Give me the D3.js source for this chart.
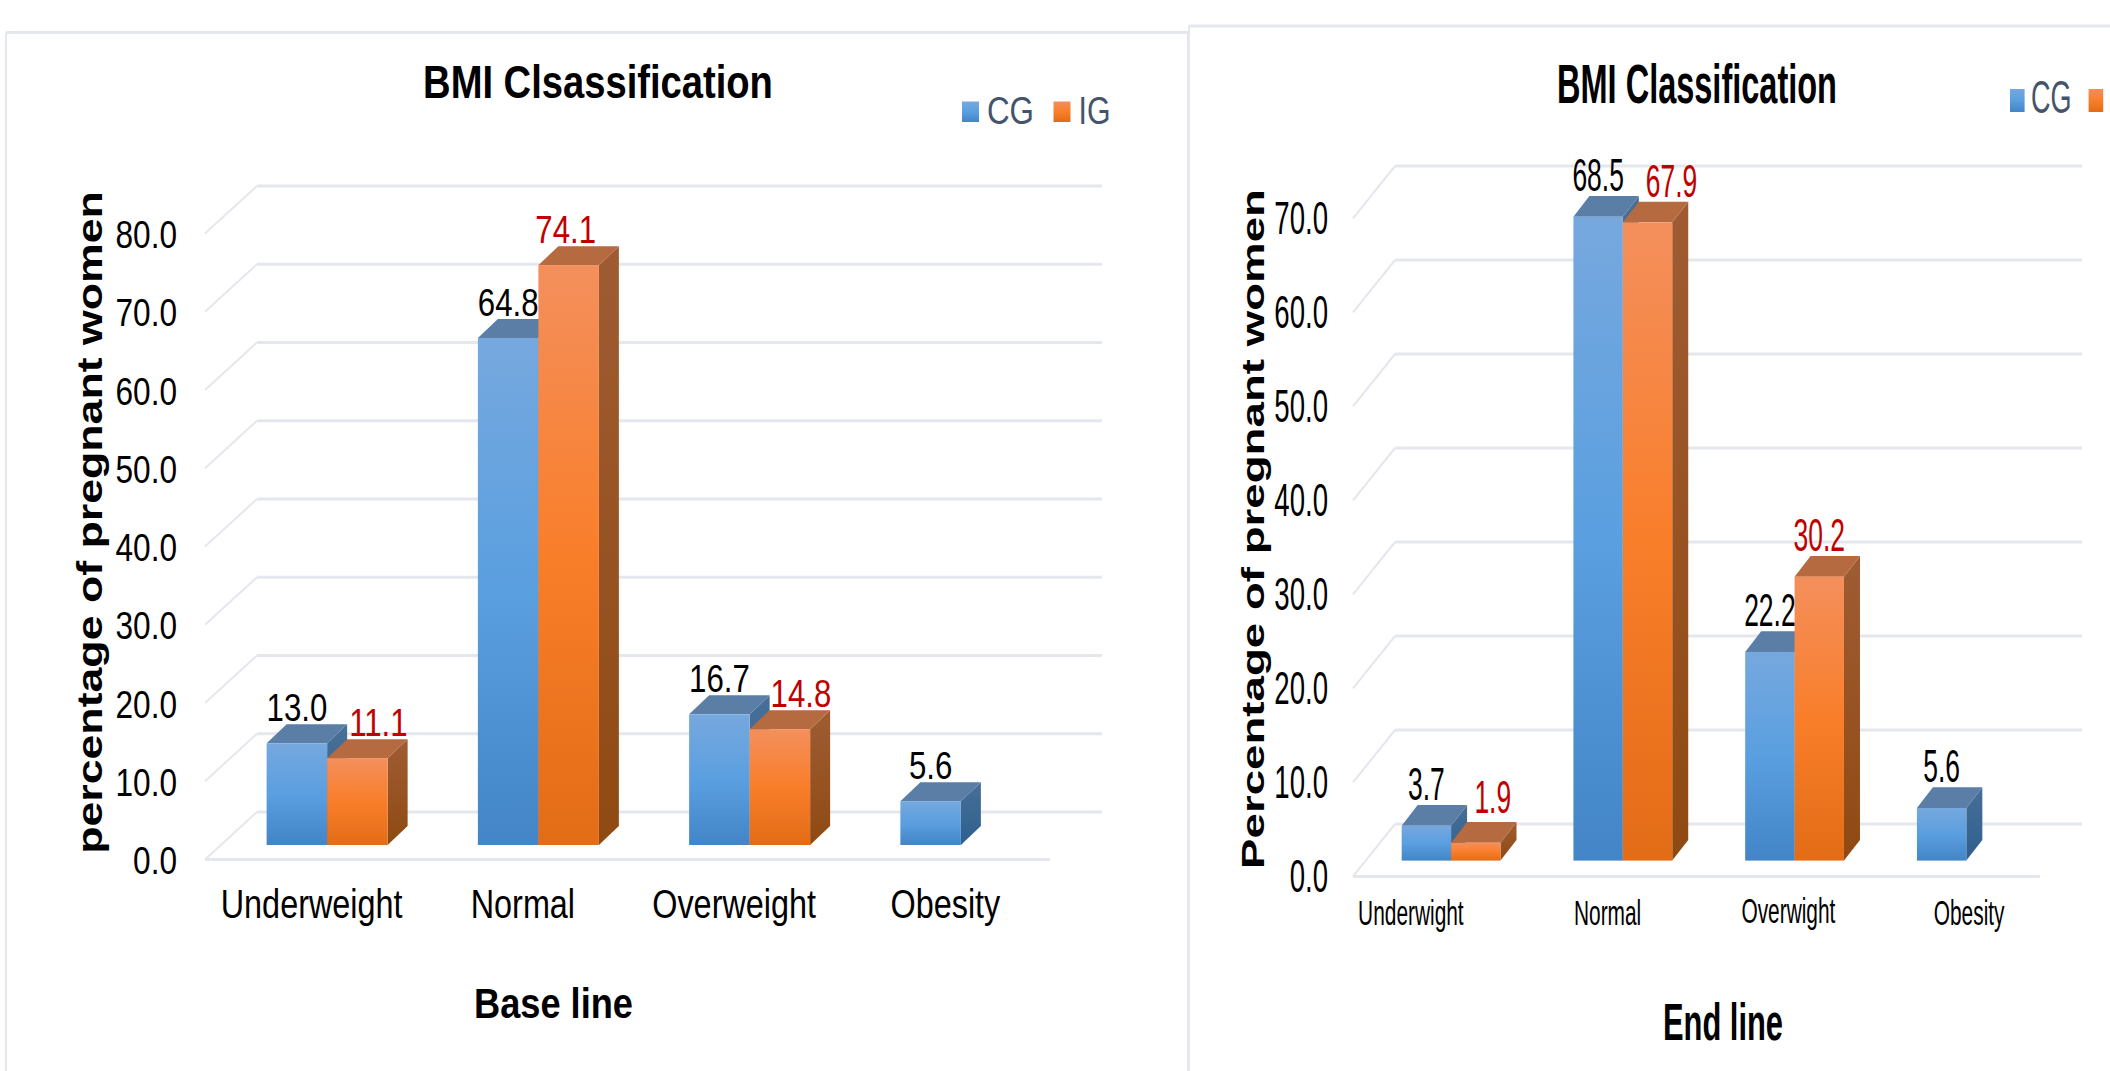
<!DOCTYPE html>
<html>
<head>
<meta charset="utf-8">
<title>BMI classification of pregnant women</title>
<script src="https://cdn.jsdelivr.net/npm/d3@7"></script>
<style>
  html, body { margin: 0; padding: 0; background: #fff; }
  svg { display: block; }
  text { font-family: "Liberation Sans", Arial, sans-serif; }
</style>
</head>
<body>
<svg id="chart" width="2110" height="1071"></svg>
<script>
// Values shown on the two panels
const seriesNames = ["CG", "IG"];
const baseCategories = ["Underweight", "Normal", "Overweight", "Obesity"];
const baseCG = [13.0, 64.8, 16.7, 5.6];
const baseIG = [11.1, 74.1, 14.8, null];
const baseTicks = [0, 10, 20, 30, 40, 50, 60, 70, 80];

const endCategories = ["Underwight", "Normal", "Overwight", "Obesity"];
const endCG = [3.7, 68.5, 22.2, 5.6];
const endIG = [1.9, 67.9, 30.2, null];
const endTicks = [0, 10, 20, 30, 40, 50, 60, 70];

const svg = d3.select("#chart");
const defs = svg.append("defs");

// Vertical shading used on the bar faces
function gradient(id, stops) {
  const g = defs.append("linearGradient").attr("id", id)
    .attr("x1", 0).attr("y1", 0).attr("x2", 0).attr("y2", 1);
  stops.forEach(([o, c]) => g.append("stop").attr("offset", o).attr("stop-color", c));
}
gradient("front-CG", [[0, "#76a8de"], [0.5, "#5a9fe0"], [1, "#4385c6"]]);
gradient("front-IG", [[0, "#f48f5c"], [0.5, "#f97e2a"], [1, "#e36c17"]]);
gradient("side-CG", [[0, "#476f98"], [1, "#2f5f8e"]]);
gradient("side-IG", [[0, "#9f5c33"], [1, "#8f4a12"]]);
const topFill = { CG: "#5a7ea6", IG: "#b56a40" };
const gridColor = "#e4e7ee";

// Text squeezed horizontally; pass sx for a factor or width for a target length
function label(parent, o) {
  const t = parent.append("text")
    .attr("text-anchor", o.anchor || "middle")
    .attr("font-size", o.size)
    .attr("font-weight", o.bold ? "bold" : "normal")
    .attr("fill", o.fill || "#000")
    .style("white-space", "pre")
    .text(o.text);
  const sx = o.width ? o.width / t.node().getComputedTextLength() : (o.sx || 1);
  t.attr("transform", `translate(${o.x},${o.y}) rotate(${o.rotate || 0}) scale(${sx},1)`);
  return t;
}

function drawPanel(p) {
  const g = svg.append("g");

  // Panel frame: a heavier top edge with thin sides
  const [fx0, fy, fx1] = p.frame;
  const frame = g.append("g").attr("fill", "none").attr("stroke", gridColor);
  frame.append("path").attr("d", `M${fx0},${fy}H${fx1}`).attr("stroke-width", 3);
  frame.append("path").attr("d", `M${fx0},${fy}V1071` + (p.frameRight ? `M${fx1},${fy}V1071` : ""))
    .attr("stroke-width", 2);

  const yBack = d3.scaleLinear().domain(p.domain).range(p.backRange);
  const yFront = v => yBack(v) + p.floor.dy;
  const yBar = v => yBack(v) + p.barOffset.y;
  const x = d3.scaleBand().domain(p.categories).range(p.floor.front);
  const inner = d3.scaleBand().domain(seriesNames).range([0, p.groupWidth]);

  // Back wall, side wall and front floor edge
  const walls = g.append("g").attr("fill", "none").attr("stroke", gridColor);
  walls.selectAll(".back").data(p.ticks).join("line").attr("class", "back")
    .attr("x1", p.floor.front[0] + p.floor.dx).attr("x2", p.floor.front[1] + p.floor.dx)
    .attr("y1", d => yBack(d)).attr("y2", d => yBack(d)).attr("stroke-width", 3);
  walls.selectAll(".side").data(p.ticks).join("line").attr("class", "side")
    .attr("x1", p.floor.front[0]).attr("x2", p.floor.front[0] + p.floor.dx)
    .attr("y1", d => yFront(d)).attr("y2", d => yBack(d)).attr("stroke-width", 2);
  walls.append("line")
    .attr("x1", p.floor.front[0]).attr("x2", p.floor.front[1])
    .attr("y1", yFront(0)).attr("y2", yFront(0)).attr("stroke-width", 3);

  // Flatten the series into one row per bar
  const rows = [];
  p.categories.forEach((c, i) => seriesNames.forEach((s, j) => {
    const value = p.values[j][i];
    if (value != null) rows.push({ c, i, s, value });
  }));
  const bx = d => x(d.c) + x.bandwidth() / 2 - p.groupWidth / 2 + p.barOffset.x + inner(d.s);
  const w = inner.bandwidth(), dx = p.depth.x, dy = p.depth.y;

  const bars = g.append("g").selectAll("g").data(rows).join("g");
  bars.append("path").attr("fill", d => `url(#side-${d.s})`).attr("d", d => {
    const l = bx(d) + w, t = yBar(d.value), b = yBar(0);
    return `M${l},${t}L${l + dx},${t - dy}V${b - dy}L${l},${b}Z`;
  });
  bars.append("path").attr("fill", d => topFill[d.s]).attr("d", d => {
    const l = bx(d), t = yBar(d.value);
    return `M${l},${t}L${l + dx},${t - dy}H${l + w + dx}L${l + w},${t}Z`;
  });
  bars.append("rect").attr("fill", d => `url(#front-${d.s})`)
    .attr("x", bx).attr("width", w)
    .attr("y", d => yBar(d.value)).attr("height", d => yBar(0) - yBar(d.value));

  // Value labels sit above the back edge of each bar top
  rows.forEach(d => {
    const shift = d.s === "IG" ? p.igLabelShift[d.i] : [0, 0];
    label(g, {
      text: d.value.toFixed(1),
      x: bx(d) + w / 2 + shift[0],
      y: yBar(d.value) - dy - p.labelGap + shift[1],
      size: p.valueFont.size, sx: p.valueFont.sx,
      fill: d.s === "IG" ? "#c00000" : "#000"
    });
  });

  // Value axis
  const yAxis = g.append("g")
    .attr("transform", `translate(${p.tickRight},${p.floor.dy + p.tickBaseline})`)
    .call(d3.axisLeft(yBack).tickValues(p.ticks).tickFormat(d3.format(".1f")).tickSize(0));
  yAxis.select(".domain").remove();
  yAxis.selectAll("text")
    .attr("x", 0).attr("dy", 0).attr("fill", "#000")
    .attr("font-size", p.tickFont.size)
    .attr("font-family", '"Liberation Sans", Arial, sans-serif')
    .attr("transform", `scale(${p.tickFont.sx},1)`);

  // Category axis
  const xAxis = g.append("g")
    .attr("transform", `translate(0,${p.categoryBaseline})`)
    .call(d3.axisBottom(x).tickSize(0));
  xAxis.select(".domain").remove();
  xAxis.selectAll("text")
    .attr("y", 0).attr("dy", 0).attr("fill", "#000")
    .attr("font-size", p.categoryFont.size)
    .attr("font-family", '"Liberation Sans", Arial, sans-serif')
    .attr("transform", (d, i) =>
      `translate(${p.categoryShift[i][0]},${p.categoryShift[i][1]}) scale(${p.categoryFont.sx},1)`);

  label(g, { text: p.title, bold: true, ...p.titleBox });
  label(g, { text: p.xTitle, bold: true, ...p.xTitleBox });
  label(g, { text: p.yTitle, bold: true, rotate: -90, ...p.yTitleBox });

  // Legend swatches and names
  p.legend.forEach(e => {
    g.append("rect").attr("x", e.x).attr("y", p.legendBox.y)
      .attr("width", p.legendBox.w).attr("height", p.legendBox.h)
      .attr("fill", `url(#front-${e.s})`);
    if (e.textWidth) {
      label(g, {
        text: e.s, anchor: "start", x: e.x + p.legendBox.w + p.legendBox.gap,
        y: p.legendBox.baseline, size: p.legendBox.font, width: e.textWidth, fill: "#44546a"
      });
    }
  });
}

drawPanel({
  frame: [6, 32.5, 1188], frameRight: true,
  categories: baseCategories, values: [baseCG, baseIG], ticks: baseTicks,
  domain: [0, 80], backRange: [812, 186],
  floor: { front: [205, 1050], dx: 52, dy: 47.5 },
  barOffset: { x: 16.5, y: 33 }, depth: { x: 20, y: 19 }, groupWidth: 121,
  labelGap: 3, igLabelShift: [[21, 0], [-3, 0], [21, 0], [0, 0]],
  valueFont: { size: 39, sx: 0.8 },
  tickRight: 177, tickBaseline: 14, tickFont: { size: 39, sx: 0.81 },
  categoryBaseline: 918, categoryShift: [[1, 0], [1, 0], [1, 0], [1, 0]],
  categoryFont: { size: 41, sx: 0.79 },
  title: "BMI Clsassification", titleBox: { x: 598, y: 98, size: 47, width: 350 },
  xTitle: "Base line", xTitleBox: { x: 553.5, y: 1018, size: 43, width: 159 },
  yTitle: "percentage of pregnant women",
  yTitleBox: { x: 102, y: 522.5, size: 36, width: 663 },
  legendBox: { y: 101.5, w: 17, h: 20.5, gap: 8, baseline: 124, font: 39 },
  legend: [{ s: "CG", x: 962, textWidth: 47 }, { s: "IG", x: 1053.5, textWidth: 32 }]
});

drawPanel({
  frame: [1189, 26, 2110], frameRight: false,
  categories: endCategories, values: [endCG, endIG], ticks: endTicks,
  domain: [0, 70], backRange: [824, 166],
  floor: { front: [1353, 2040], dx: 42, dy: 52.4 },
  barOffset: { x: 12.2, y: 36.6 }, depth: { x: 16, y: 20.7 }, groupWidth: 98.8,
  labelGap: 5, igLabelShift: [[17, -4], [24, 0], [0, 0], [0, 0]],
  valueFont: { size: 46, sx: 0.575 },
  tickRight: 1328, tickBaseline: 15, tickFont: { size: 46, sx: 0.6 },
  categoryBaseline: 925, categoryShift: [[-28, 0], [-3, 0], [6, -2.5], [15, 0]],
  categoryFont: { size: 36, sx: 0.58 },
  title: "BMI Classification", titleBox: { x: 1697, y: 102.5, size: 55, width: 280 },
  xTitle: "End line", xTitleBox: { x: 1723, y: 1039.5, size: 51, width: 120 },
  yTitle: "Percentage of pregnant women",
  yTitleBox: { x: 1264, y: 529, size: 31, width: 680 },
  legendBox: { y: 89, w: 14.6, h: 23, gap: 6.5, baseline: 113, font: 46 },
  legend: [{ s: "CG", x: 2010, textWidth: 40.5 }, { s: "IG", x: 2088.6 }]
});
</script>
</body>
</html>
